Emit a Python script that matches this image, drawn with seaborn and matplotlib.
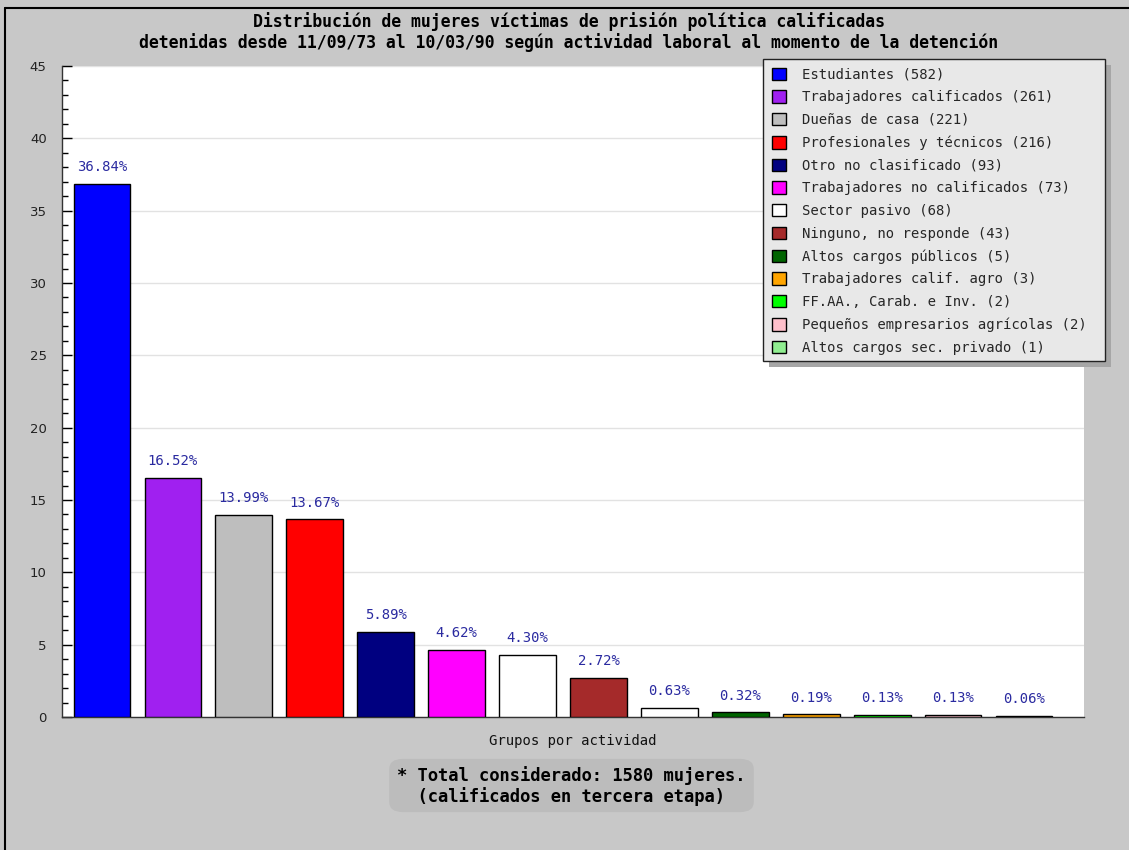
import matplotlib
matplotlib.use("Agg")
import matplotlib.pyplot as plt
import seaborn as sns
import pandas as pd
from matplotlib.patches import Patch, Rectangle, FancyBboxPatch
from matplotlib.lines import Line2D
from matplotlib.ticker import MultipleLocator

# ---- data ----
categories = [
    "Estudiantes", "Trabajadores calificados", "Dueñas de casa",
    "Profesionales y técnicos", "Otro no clasificado",
    "Trabajadores no calificados", "Sector pasivo", "Ninguno, no responde",
    "(sin etiqueta)", "Altos cargos públicos", "Trabajadores calif. agro",
    "FF.AA., Carab. e Inv.", "Pequeños empresarios agrícolas",
    "Altos cargos sec. privado",
]
counts = [582, 261, 221, 216, 93, 73, 68, 43, 10, 5, 3, 2, 2, 1]
percentages = [36.84, 16.52, 13.99, 13.67, 5.89, 4.62, 4.30, 2.72,
               0.63, 0.32, 0.19, 0.13, 0.13, 0.06]
colors = ["#0000ff", "#a020f0", "#bebebe", "#ff0000", "#000080", "#ff00ff",
          "#ffffff", "#a52a2a", "#ffffff", "#006400", "#ffa500", "#00ff00",
          "#ffc0cb", "#90ee90"]
legend_in = [True] * 8 + [False] + [True] * 5

title = ("Distribución de mujeres víctimas de prisión política calificadas\n"
         "detenidas desde 11/09/73 al 10/03/90 según actividad laboral al momento de la detención")
xlabel = "Grupos por actividad"
note = "* Total considerado: 1580 mujeres.\n  (calificados en tercera etapa)"

df = pd.DataFrame({"cat": categories, "pct": percentages})

sns.set_theme(style="white")
MONO = ["DejaVu Sans Mono"]
BG = "#c8c8c8"

W, H = 1129, 850
fig = plt.figure(figsize=(W / 100, H / 100), dpi=100, facecolor=BG)

def fx(px):
    return px / W

def fy(py):
    return 1 - py / H

ax_l, ax_r, ax_t, ax_b = 62, 1084, 66, 717
ax = fig.add_axes([fx(ax_l), fy(ax_b), fx(ax_r - ax_l), (ax_b - ax_t) / H])
ax.set_facecolor("white")

sns.barplot(data=df, x="cat", y="pct", hue="cat", palette=dict(zip(categories, colors)),
            dodge=False, legend=False, width=0.8, edgecolor="black", linewidth=1.0,
            saturation=1, ax=ax, zorder=3)

ax.set_ylim(0, 45)
ax.set_xlim(-0.564, 13.846)
ax.yaxis.set_major_locator(MultipleLocator(5))
ax.yaxis.set_minor_locator(MultipleLocator(1))
ax.grid(axis="y", which="major", color="#e2e2e2", linewidth=1.0, zorder=0)
ax.set_axisbelow(True)
ax.set_xticks([])
ax.tick_params(axis="y", which="major", direction="in", length=7, width=1,
               color="black", left=True, pad=11, labelsize=9.5, labelcolor="#222222")
ax.tick_params(axis="y", which="minor", direction="in", length=4, width=1,
               color="black", left=True)
for s in ["top", "right"]:
    ax.spines[s].set_visible(False)
for s in ["left", "bottom"]:
    ax.spines[s].set_color("#333333")
    ax.spines[s].set_linewidth(1.0)
ax.set_xlabel("")
ax.set_ylabel("")

# value labels
for i, p in enumerate(percentages):
    ax.annotate(f"{p:.2f}%", (i, p), xytext=(0, 7), textcoords="offset points",
                ha="center", va="bottom", fontsize=10, color="#2a2aa0",
                family=MONO)

# title
fig.text(fx(569), fy(32), title, ha="center", va="center", fontsize=11.9,
         fontweight="bold", family=MONO, color="black", linespacing=1.2)

# x label
fig.text(fx(573), fy(741), xlabel, ha="center", va="center", fontsize=10,
         family=MONO, color="#111111")

# legend with manual frame and shadow
lx0, ly0, lx1, ly1 = 763, 59, 1105, 361
fig.patches.append(Rectangle((fx(lx0 + 6), fy(ly1 + 6)), fx(lx1 - lx0), (ly1 - ly0) / H,
                             transform=fig.transFigure, facecolor="#a6a6a6",
                             edgecolor="none", zorder=4))
fig.patches.append(Rectangle((fx(lx0), fy(ly1)), fx(lx1 - lx0), (ly1 - ly0) / H,
                             transform=fig.transFigure, facecolor="#e8e8e8",
                             edgecolor="#222222", linewidth=1.0, zorder=4.5))
handles = [Patch(facecolor=c, edgecolor="black", linewidth=1.0)
           for c, keep in zip(colors, legend_in) if keep]
labels = [f"{n} ({k})" for n, k, keep in zip(categories, counts, legend_in) if keep]
leg = fig.legend(handles, labels, loc="upper left",
                 bbox_to_anchor=(fx(764), fy(60)), bbox_transform=fig.transFigure,
                 borderaxespad=0, frameon=False,
                 prop={"family": MONO, "size": 10}, handlelength=1.0,
                 handleheight=1.0, handletextpad=1.2, labelspacing=0.622,
                 borderpad=0.55)
leg.set_zorder(5)

# note box
fig.patches.append(FancyBboxPatch((fx(396), fy(807)), fx(351), 43 / H,
                                  boxstyle="round,pad=0.006,rounding_size=0.012",
                                  transform=fig.transFigure, facecolor="#bcbcbc",
                                  edgecolor="none", zorder=2))
fig.text(fx(397), fy(786), note, ha="left", va="center", fontsize=12.3,
         fontweight="bold", family=MONO, color="black", linespacing=1.2)

# outer frame lines (top and left)
fig.add_artist(Line2D([fx(5), 1.0], [fy(8), fy(8)], transform=fig.transFigure,
                      color="black", linewidth=1.5))
fig.add_artist(Line2D([fx(5), fx(5)], [fy(8), 0.0], transform=fig.transFigure,
                      color="black", linewidth=1.5))

fig.savefig("out.png", dpi=100, facecolor=BG)
